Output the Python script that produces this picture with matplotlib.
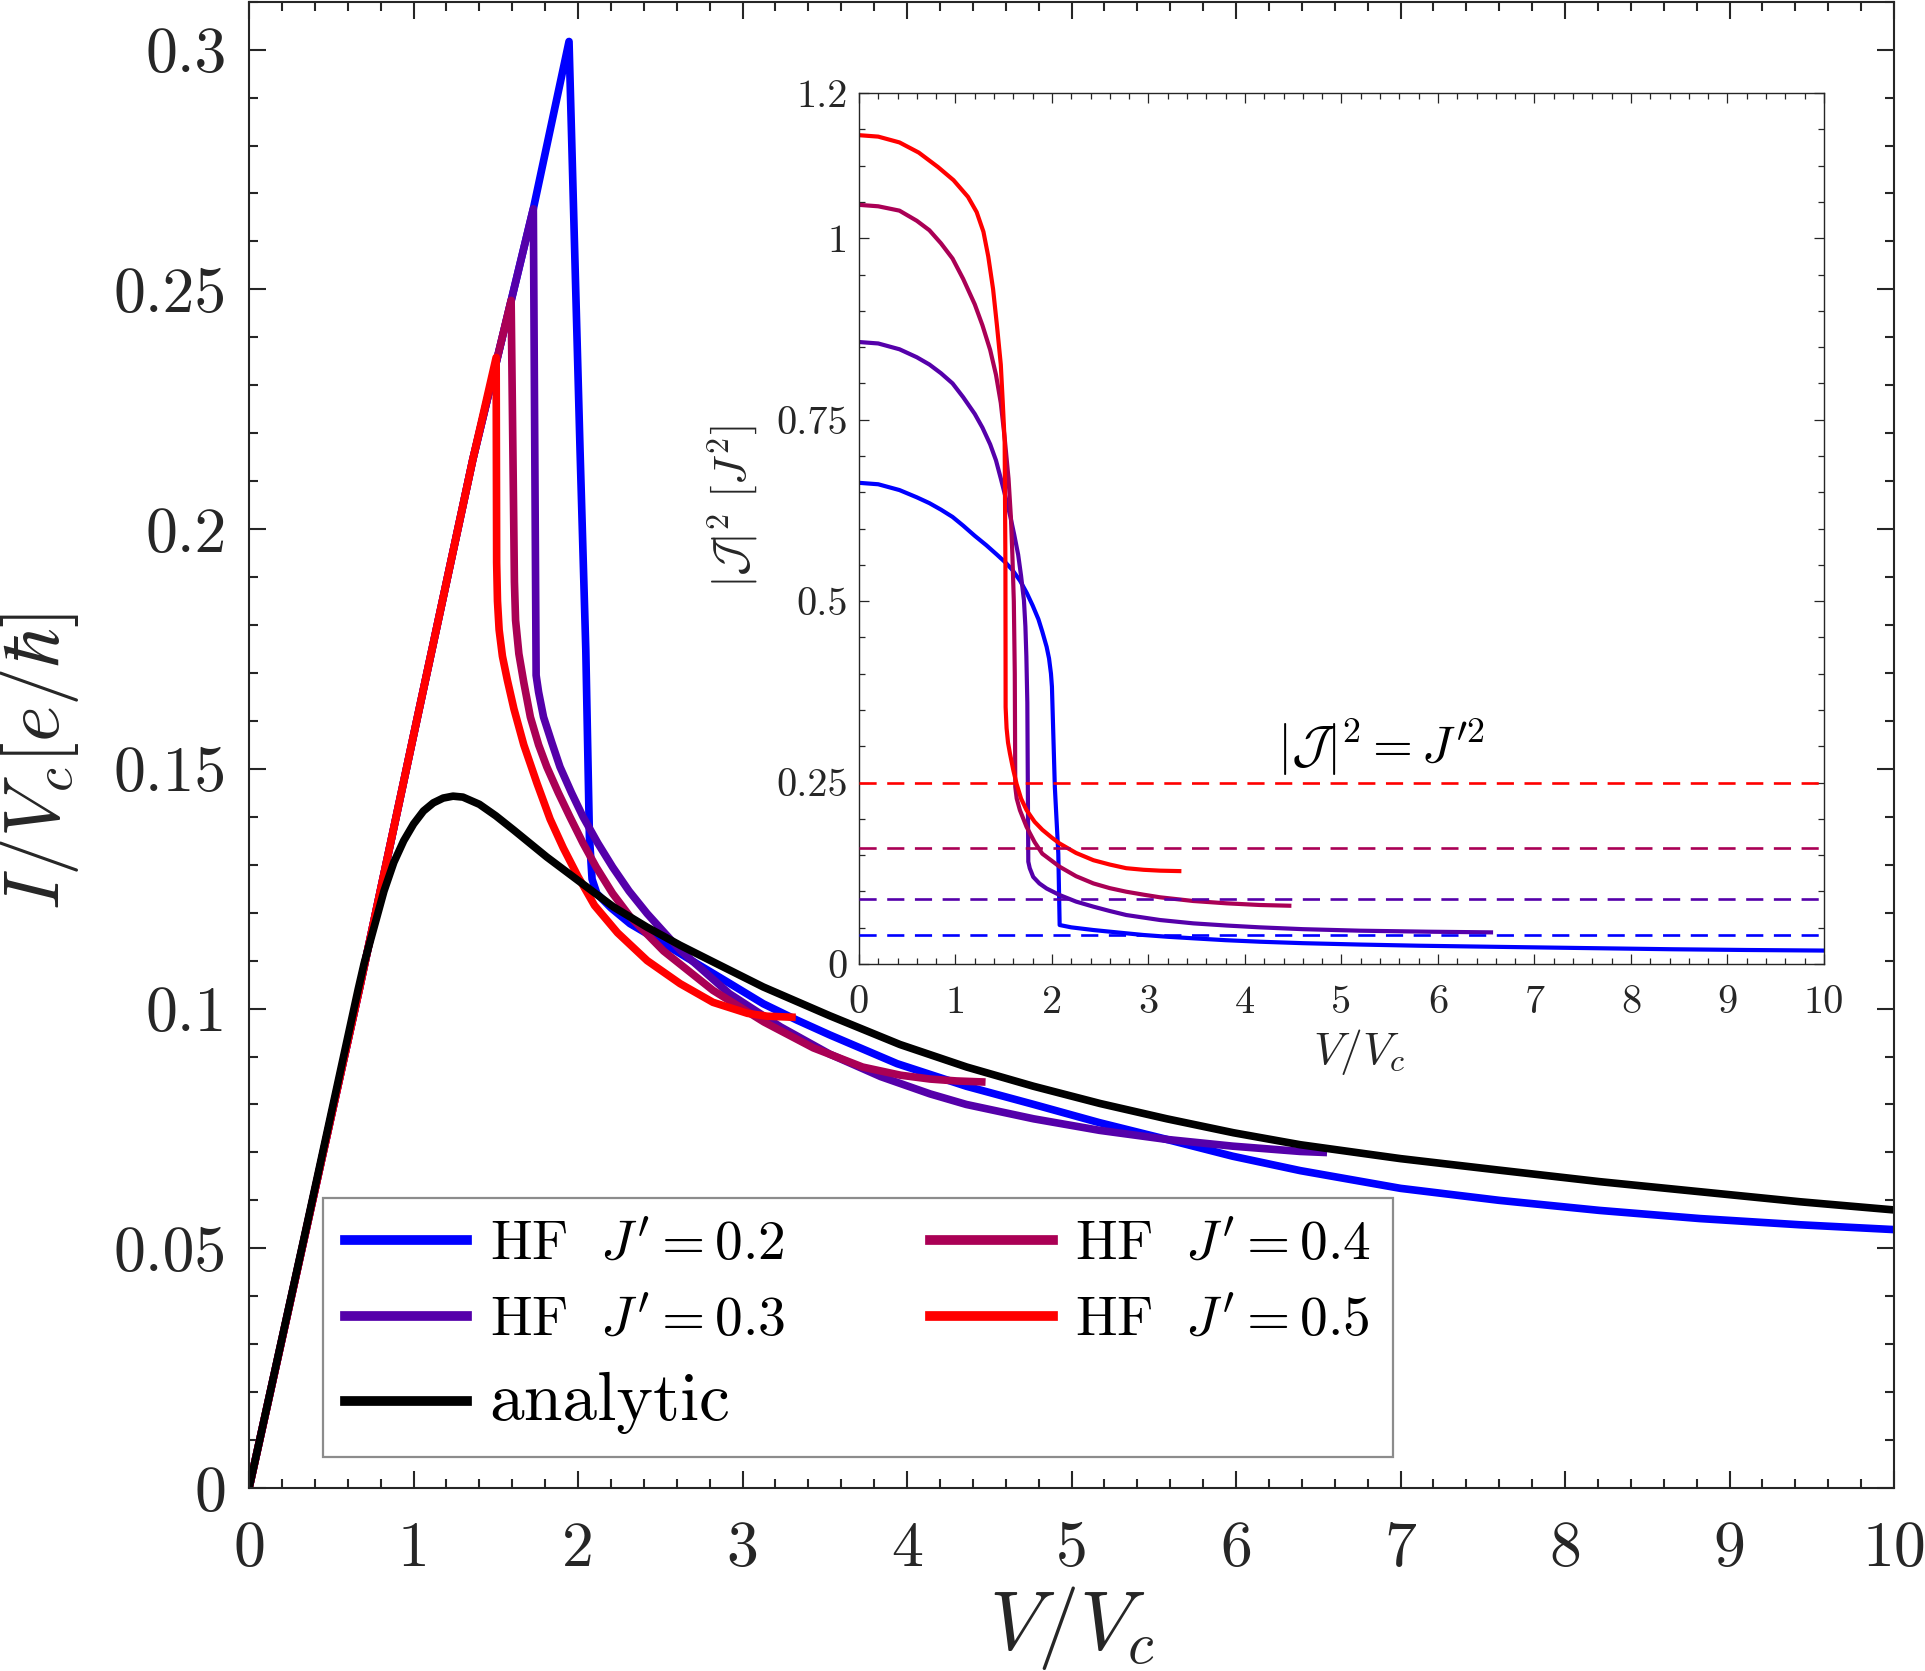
import numpy as np
import matplotlib
matplotlib.use("Agg")
import matplotlib.pyplot as plt
from matplotlib.ticker import MultipleLocator, FixedLocator, FuncFormatter

plt.rcParams['mathtext.fontset'] = 'cm'
plt.rcParams['font.family'] = 'serif'
plt.rcParams['font.serif'] = ['cmr10']
plt.rcParams['axes.unicode_minus'] = False

AX_COL = '#262626'
C_02 = (0.0, 0.0, 1.0)
C_03 = (0.333, 0.0, 0.667)
C_04 = (0.667, 0.0, 0.333)
C_05 = (1.0, 0.0, 0.0)

# ---- main panel: I/Vc vs V/Vc ----
v_b = [0, 0.67, 1.0, 1.36, 1.728, 1.945, 2.012, 2.047, 2.069, 2.085, 2.114, 2.2, 2.316, 2.42,
       2.519, 2.72, 2.924, 3.126, 3.33, 3.53, 3.94, 4.36, 4.77, 5.17, 5.58, 5.98, 6.39,
       7.0, 7.6, 8.21, 8.82, 9.43, 10.0]
i_b = [0, 0.104, 0.157, 0.2145, 0.2668, 0.3017, 0.2164, 0.1747, 0.1358, 0.127, 0.124, 0.121,
       0.1177, 0.1156, 0.1136, 0.1094, 0.1052, 0.101, 0.0976, 0.0945, 0.0885, 0.0838, 0.0800,
       0.0762, 0.0727, 0.0692, 0.0662, 0.0625, 0.0600, 0.0579, 0.0562, 0.0549, 0.0539]

v_p = [0, 0.67, 1.0, 1.36, 1.728, 1.745, 1.76, 1.79, 1.84, 1.89, 1.96, 2.03, 2.12, 2.21,
       2.31, 2.42, 2.62, 2.92, 3.23, 3.53, 3.84, 4.14, 4.36, 4.77, 5.17, 5.58, 5.98, 6.39, 6.53]
i_p = [0, 0.104, 0.157, 0.2145, 0.2668, 0.1695, 0.166, 0.1608, 0.1555, 0.1504, 0.145, 0.140,
       0.1345, 0.1295, 0.1245, 0.1198, 0.1122, 0.1031, 0.0962, 0.0905, 0.0858, 0.0822, 0.0800,
       0.0770, 0.0746, 0.0727, 0.0713, 0.0702, 0.0700]

v_m = [0, 0.67, 1.0, 1.36, 1.593, 1.613, 1.62, 1.64, 1.67, 1.71, 1.76, 1.81, 1.88, 1.95,
       2.03, 2.11, 2.21, 2.32, 2.52, 2.82, 3.13, 3.43, 3.73, 3.96, 4.14, 4.30, 4.454]
i_m = [0, 0.104, 0.157, 0.2145, 0.2477, 0.189, 0.181, 0.174, 0.168, 0.1608, 0.155, 0.1504,
       0.145, 0.140, 0.1345, 0.1295, 0.124, 0.119, 0.112, 0.1038, 0.0972, 0.0918, 0.0878,
       0.0861, 0.0853, 0.0849, 0.0847]

v_r = [0, 0.67, 1.0, 1.36, 1.502, 1.505, 1.51, 1.52, 1.54, 1.57, 1.61, 1.67, 1.75, 1.83,
       1.91, 2.0, 2.1, 2.24, 2.42, 2.62, 2.82, 3.03, 3.15, 3.30]
i_r = [0, 0.104, 0.157, 0.2145, 0.2358, 0.193, 0.185, 0.179, 0.1735, 0.1685, 0.1625, 0.155,
       0.147, 0.1395, 0.1335, 0.1275, 0.1215, 0.1158, 0.110, 0.1052, 0.1013, 0.0990, 0.0984,
       0.0982]

v_an = [0, 0.33, 0.663, 0.70, 0.76, 0.82, 0.88, 0.94, 1.0, 1.06, 1.12, 1.18, 1.24, 1.30, 1.40,
        1.50, 1.61, 1.81, 2.012, 2.215, 2.418, 2.62, 2.823, 3.126, 3.53, 3.957, 4.363, 4.768,
        5.173, 5.58, 5.984, 6.39, 7.0, 7.6, 8.21, 8.82, 9.43, 10.0]
i_an = [0, 0.0515, 0.104, 0.1095, 0.117, 0.1245, 0.1305, 0.135, 0.1385, 0.1412, 0.1429,
        0.1439, 0.1443, 0.1441, 0.1426, 0.1402, 0.1372, 0.1316, 0.1264, 0.1212, 0.117, 0.1132,
        0.1097, 0.1045, 0.0985, 0.0925, 0.0878, 0.0838, 0.0802, 0.0770, 0.0741, 0.0716,
        0.0687, 0.0663, 0.0639, 0.0618, 0.0597, 0.058]

# ---- inset: |J|^2 vs V/Vc ----
iv_b = [0, 0.2, 0.42, 0.6, 0.73, 0.85, 0.97, 1.08, 1.2, 1.32, 1.43, 1.52, 1.59, 1.67, 1.74,
        1.80, 1.86, 1.90, 1.945, 1.97, 1.99, 2.0, 2.03, 2.066, 2.08, 2.2, 2.43, 2.7, 2.946,
        3.2, 3.465, 3.8, 4.155, 4.6, 5.19, 5.8, 6.53, 7.5, 8.44, 9.2, 10.0]
ij_b = [0.663, 0.661, 0.653, 0.643, 0.635, 0.626, 0.616, 0.604, 0.59, 0.577, 0.564, 0.553,
        0.543, 0.528, 0.511, 0.494, 0.475, 0.458, 0.437, 0.421, 0.400, 0.382, 0.244, 0.152,
        0.0537, 0.0505, 0.0468, 0.0432, 0.040, 0.0375, 0.0354, 0.0328, 0.0307, 0.0287,
        0.0268, 0.0252, 0.0238, 0.022, 0.0203, 0.0193, 0.0185]

iv_p = [0, 0.2, 0.42, 0.6, 0.73, 0.85, 0.97, 1.08, 1.2, 1.28, 1.36, 1.42, 1.47, 1.52, 1.57,
        1.61, 1.65, 1.68, 1.71, 1.725, 1.735, 1.745, 1.755, 1.77, 1.806, 1.87, 1.945, 2.08,
        2.25, 2.43, 2.6, 2.77, 3.12, 3.465, 3.81, 4.155, 4.6, 5.19, 5.9, 6.55]
ij_p = [0.857, 0.855, 0.847, 0.836, 0.826, 0.814, 0.80, 0.781, 0.758, 0.739, 0.716, 0.694,
        0.669, 0.643, 0.616, 0.591, 0.564, 0.535, 0.501, 0.465, 0.424, 0.36, 0.141, 0.132,
        0.120, 0.111, 0.104, 0.095, 0.086, 0.079, 0.073, 0.0675, 0.0606, 0.056, 0.053,
        0.0505, 0.048, 0.0459, 0.0445, 0.0436]

iv_m = [0, 0.2, 0.42, 0.6, 0.73, 0.85, 0.97, 1.08, 1.2, 1.28, 1.36, 1.42, 1.47, 1.51, 1.55,
        1.575, 1.59, 1.605, 1.615, 1.62, 1.635, 1.668, 1.737, 1.82, 1.90, 2.0, 2.08, 2.25,
        2.43, 2.6, 2.77, 2.95, 3.12, 3.465, 3.81, 4.155, 4.46]
ij_m = [1.046, 1.044, 1.038, 1.024, 1.011, 0.993, 0.972, 0.944, 0.909, 0.88, 0.846, 0.812,
        0.773, 0.725, 0.669, 0.615, 0.564, 0.50, 0.40, 0.244, 0.228, 0.212, 0.189, 0.168,
        0.152, 0.142, 0.134, 0.121, 0.111, 0.1045, 0.0996, 0.0955, 0.0919, 0.0868, 0.0836,
        0.0813, 0.0803]

iv_r = [0, 0.2, 0.42, 0.62, 0.82, 0.98, 1.13, 1.22, 1.29, 1.34, 1.39, 1.43, 1.47, 1.49, 1.51,
        1.518, 1.52, 1.53, 1.545, 1.565, 1.60, 1.634, 1.68, 1.737, 1.82, 1.90, 2.0, 2.08,
        2.25, 2.43, 2.6, 2.77, 2.95, 3.12, 3.32]
ij_r = [1.142, 1.14, 1.132, 1.118, 1.098, 1.08, 1.057, 1.036, 1.009, 0.975, 0.93, 0.88,
        0.826, 0.775, 0.72, 0.55, 0.354, 0.325, 0.305, 0.29, 0.267, 0.248, 0.228, 0.212,
        0.196, 0.185, 0.174, 0.166, 0.153, 0.143, 0.137, 0.132, 0.1298, 0.1286, 0.128]

j_prime = [0.2, 0.3, 0.4, 0.5]
colors = [C_02, C_03, C_04, C_05]
legend_labels = [r'$\mathrm{HF}\ \ J^\prime=%g$' % j for j in j_prime]


def g_fmt(v, pos):
    return '%g' % round(v, 4)


fig = plt.figure(figsize=(19.25, 16.71), dpi=100)
ax = fig.add_axes([0.1294, 0.1095, 0.8545, 0.8895])

main_v = [v_b, v_p, v_m, v_r]
main_i = [i_b, i_p, i_m, i_r]
handles = []
for vv, ii, c, lab in zip(main_v, main_i, colors, legend_labels):
    h, = ax.plot(vv, ii, color=c, lw=5.5, label=lab, solid_joinstyle='round')
    handles.append(h)
h_an, = ax.plot(v_an, i_an, color='k', lw=5.5, label='analytic', solid_joinstyle='round')

ax.set_xlim(0, 10)
ax.set_ylim(0, 0.31)
ax.xaxis.set_major_locator(MultipleLocator(1))
ax.xaxis.set_minor_locator(MultipleLocator(0.2))
ax.yaxis.set_major_locator(FixedLocator([0, 0.05, 0.1, 0.15, 0.2, 0.25, 0.3]))
ax.yaxis.set_minor_locator(MultipleLocator(0.01))
ax.xaxis.set_major_formatter(FuncFormatter(g_fmt))
ax.yaxis.set_major_formatter(FuncFormatter(g_fmt))
ax.tick_params(which='both', direction='in', top=True, right=True, color=AX_COL,
               labelcolor=AX_COL, width=1.5)
ax.tick_params(which='major', length=12, labelsize=46)
ax.tick_params(which='minor', length=6.5)
ax.tick_params(axis='x', which='major', pad=24)
ax.tick_params(axis='y', which='major', pad=16)
for s in ax.spines.values():
    s.set_color(AX_COL)
    s.set_linewidth(1.5)

ax.set_xlabel(r'$V/V_c$', fontsize=60, color=AX_COL, va='center')
ax.xaxis.set_label_coords(0.5, -0.0945)
ax.set_ylabel(r'$I/V_c[e/\hbar]$', fontsize=56, color=AX_COL, va='center')
ax.yaxis.set_label_coords(-0.1277, 0.489)

leg_handles = [handles[0], handles[1], h_an, handles[2], handles[3]]
leg = fig.legend(handles=leg_handles, labels=[h.get_label() for h in leg_handles],
                 ncol=2, loc='upper left', bbox_to_anchor=(0.1678, 0.1299, 0.5558, 0.1532),
                 bbox_transform=fig.transFigure, mode='expand', borderaxespad=0,
                 fontsize=40, handlelength=2.2, handletextpad=0.4, labelspacing=0.47,
                 borderpad=0.4, fancybox=False, framealpha=1, edgecolor='#8c8c8c')
leg.get_frame().set_linewidth(1.6)
leg.get_texts()[2].set_fontsize(50)
for ln in leg.get_lines():
    ln.set_linewidth(7)

# ---- inset ----
ins = fig.add_axes([0.4462, 0.4231, 0.5013, 0.5212])
ins.set_facecolor('white')
ins_v = [iv_b, iv_p, iv_m, iv_r]
ins_j = [ij_b, ij_p, ij_m, ij_r]
for vv, jj, c in zip(ins_v, ins_j, colors):
    ins.plot(vv, jj, color=c, lw=3.0, zorder=2, solid_joinstyle='round')
for j, c in zip(j_prime, colors):
    ins.axhline(j ** 2, color=c, lw=1.9, dashes=(6.5, 4), zorder=3)

ins.set_xlim(0, 10)
ins.set_ylim(0, 1.2)
ins.xaxis.set_major_locator(MultipleLocator(1))
ins.xaxis.set_minor_locator(MultipleLocator(0.2))
ins.yaxis.set_major_locator(FixedLocator([0, 0.25, 0.5, 0.75, 1.0, 1.2]))
ins.yaxis.set_minor_locator(MultipleLocator(0.05))
ins.xaxis.set_major_formatter(FuncFormatter(g_fmt))
ins.yaxis.set_major_formatter(FuncFormatter(g_fmt))
ins.tick_params(which='both', direction='in', top=True, right=True, color=AX_COL,
                labelcolor=AX_COL, width=0.9)
ins.tick_params(which='major', length=7.4, labelsize=29)
ins.tick_params(which='minor', length=4)
ins.tick_params(axis='x', which='major', pad=15)
ins.tick_params(axis='y', which='major', pad=8)
for s in ins.spines.values():
    s.set_color(AX_COL)
    s.set_linewidth(1.0)

ins.set_xlabel(r'$V/V_c$', fontsize=33, color=AX_COL, va='center')
ins.xaxis.set_label_coords(0.518, -0.101)
ins.set_ylabel(r'$|\mathcal{J}|^2\ [J^2]$', fontsize=33, color=AX_COL, va='center')
ins.yaxis.set_label_coords(-0.1306, 0.525)
ins.text(5.41, 0.299, r'$|\mathcal{J}|^2=J^{\prime 2}$', fontsize=37, ha='center',
         va='center', color='k')

fig.savefig('out.png', dpi=100)
